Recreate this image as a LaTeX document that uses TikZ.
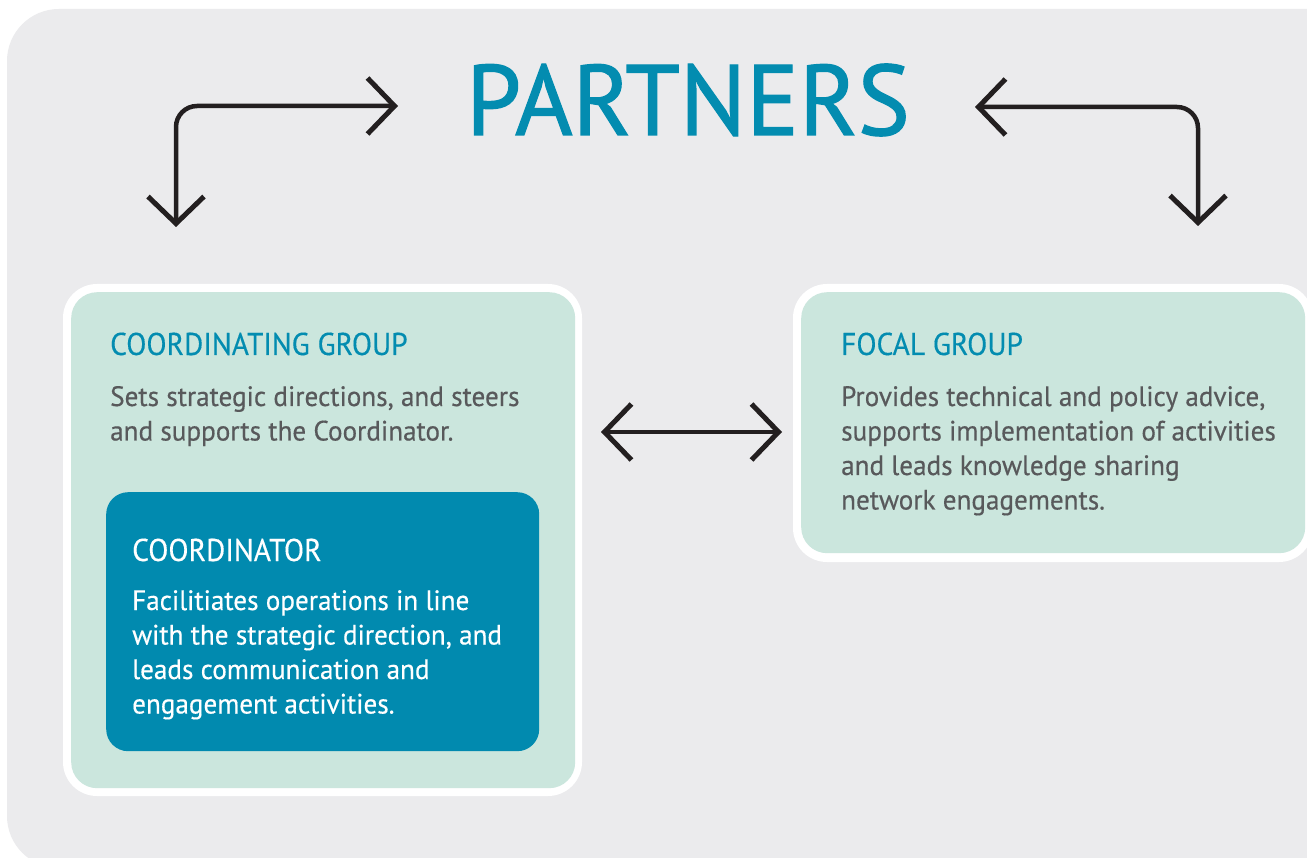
\documentclass[tikz,border=0pt]{standalone}
\usepackage{fontspec}
\usetikzlibrary{arrows.meta}
\newfontfamily\din[FakeStretch=0.97,FakeBold=0.4]{PT Sans}
\newfontfamily\dinH[FakeStretch=0.935,FakeBold=0.3]{PT Sans}
\newfontfamily\dinT[FakeStretch=0.985,FakeBold=1.2]{PT Sans}
\definecolor{bggray}{HTML}{EBEBED}
\definecolor{mint}{HTML}{CBE6DD}
\definecolor{teal}{HTML}{038CB0}
\definecolor{cteal}{HTML}{018AAF}
\definecolor{bodygray}{HTML}{58595B}
\definecolor{ink}{HTML}{231F20}
\tikzset{
  chev/.tip={Straight Barb[length=27pt,width=56pt,line width=5pt]},
  conn/.style={draw=ink, line width=4.5pt, {chev}-{chev}, rounded corners=21pt},
  headtxt/.style={anchor=base west, inner sep=0pt, font=\dinH\fontsize{31.5}{34.5}\selectfont},
  bodytxt/.style={anchor=base west, inner sep=0pt, font=\din\fontsize{28}{34.5}\selectfont},
}
\begin{document}
\begin{tikzpicture}[x=1pt,y=-1pt]
\useasboundingbox (0,0) rectangle (1307,858);
\clip (0,0) rectangle (1307,858);
\fill[white] (0,0) rectangle (1307,858);
% background panel
\fill[bggray, rounded corners=52pt] (7,9) rectangle (1400,868);
% coordinating group
\fill[white, rounded corners=34pt] (63,284) rectangle (582,796);
\node[fill=mint, rounded corners=26pt, minimum width=504pt, minimum height=496pt, inner sep=0pt, anchor=north west] (cg) at (71,292) {};
% focal group
\fill[white, rounded corners=34pt] (793,284) rectangle (1313,562);
\node[fill=mint, rounded corners=26pt, minimum width=504pt, minimum height=261pt, inner sep=0pt, anchor=north west] (fg) at (801,292) {};
% coordinator
\node[fill=cteal, rounded corners=22pt, minimum width=433pt, minimum height=259pt, inner sep=0pt, anchor=north west] (co) at (106,492) {};
% title
\node[anchor=base west, inner sep=0pt, text=teal, font=\dinT\fontsize{100}{100}\selectfont] (partners) at (466,135) {PARTNERS};
% texts
\node[headtxt, text=teal] (cgh) at (110,355) {COORDINATING GROUP};
\node[bodytxt, text=bodygray] (cgb) at (110,406) {\begin{tabular}[t]{@{}l@{}}Sets strategic directions, and steers\\and supports the Coordinator.\end{tabular}};
\node[headtxt, text=white] (coh) at (132,561) {COORDINATOR};
\node[bodytxt, text=white] (cob) at (132,610) {\begin{tabular}[t]{@{}l@{}}Facilitiates operations in line\\with the strategic direction, and\\leads communication and\\engagement activities.\end{tabular}};
\node[headtxt, text=teal] (fgh) at (841,355) {FOCAL GROUP};
\node[bodytxt, text=bodygray] (fgb) at (841,406) {\begin{tabular}[t]{@{}l@{}}Provides technical and policy advice,\\supports implementation of activities\\and leads knowledge sharing\\network engagements.\end{tabular}};
% connector end points
\coordinate (pl) at (398,106);
\coordinate (cgin) at (176,227);
\coordinate (pr) at (975,107);
\coordinate (fgin) at (1198,226);
\coordinate (ml) at (601,432);
\coordinate (mr) at (782,432);
\draw[conn] (pl) -| (cgin);
\draw[conn] (pr) -| (fgin);
\draw[conn] (ml) -- (mr);
\end{tikzpicture}
\end{document}
